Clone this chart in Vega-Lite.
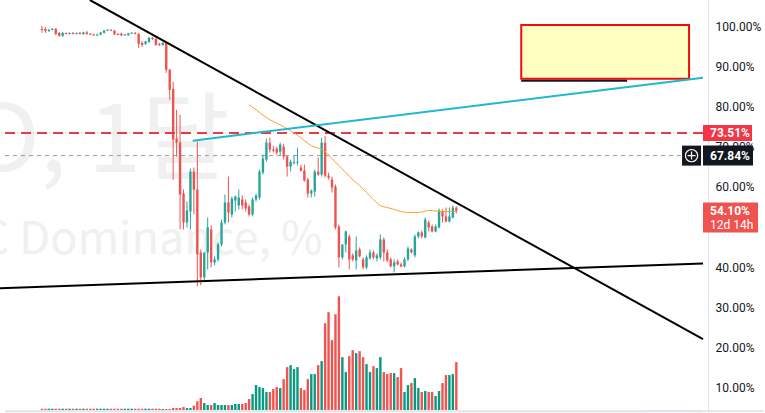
{
 "$schema": "https://vega.github.io/schema/vega-lite/v6.json",
 "width": 765,
 "height": 413,
 "autosize": {"type": "fit", "contains": "padding"},
 "padding": 0,
 "background": "#ffffff",
 "config": {
  "view": {"stroke": null},
  "axis": {"grid": false},
  "axisX": {"disable": true}
 },
 "datasets": {
  "candles": [
   {"t":0,"o":99.50,"h":100.25,"l":98.50,"c":99.25,"vol":1.3},
   {"t":1,"o":99.50,"h":100.00,"l":98.50,"c":99.00,"vol":1.3},
   {"t":2,"o":99.00,"h":99.50,"l":98.75,"c":99.25,"vol":1.3},
   {"t":3,"o":99.25,"h":99.75,"l":99.13,"c":99.50,"vol":1.3},
   {"t":4,"o":99.50,"h":99.75,"l":98.00,"c":98.25,"vol":1.3},
   {"t":5,"o":98.50,"h":98.75,"l":97.51,"c":97.76,"vol":1.3},
   {"t":6,"o":97.76,"h":98.75,"l":97.51,"c":98.50,"vol":1.3},
   {"t":7,"o":98.50,"h":98.63,"l":98.13,"c":98.25,"vol":1.3},
   {"t":8,"o":98.25,"h":98.63,"l":98.13,"c":98.50,"vol":1.3},
   {"t":9,"o":98.50,"h":98.70,"l":98.10,"c":98.25,"vol":1.3},
   {"t":10,"o":98.25,"h":98.60,"l":98.10,"c":98.50,"vol":1.3},
   {"t":11,"o":98.50,"h":98.75,"l":98.15,"c":98.25,"vol":1.3},
   {"t":12,"o":98.25,"h":98.80,"l":98.00,"c":98.65,"vol":1.3},
   {"t":13,"o":98.65,"h":99.00,"l":98.10,"c":98.20,"vol":1.3},
   {"t":14,"o":98.25,"h":98.40,"l":97.95,"c":98.00,"vol":1.3},
   {"t":15,"o":98.10,"h":98.30,"l":97.80,"c":97.85,"vol":1.3},
   {"t":16,"o":97.85,"h":98.30,"l":97.80,"c":98.10,"vol":1.3},
   {"t":17,"o":98.10,"h":98.75,"l":97.90,"c":98.60,"vol":1.3},
   {"t":18,"o":98.55,"h":99.30,"l":98.30,"c":99.05,"vol":1.3},
   {"t":19,"o":99.05,"h":99.40,"l":99.00,"c":99.30,"vol":1.3},
   {"t":20,"o":99.30,"h":99.40,"l":98.95,"c":99.05,"vol":1.3},
   {"t":21,"o":99.05,"h":99.25,"l":97.95,"c":98.20,"vol":1.3},
   {"t":22,"o":98.25,"h":98.45,"l":97.95,"c":98.00,"vol":1.3},
   {"t":23,"o":98.30,"h":98.60,"l":97.70,"c":97.90,"vol":1.3},
   {"t":24,"o":97.90,"h":98.15,"l":97.80,"c":98.15,"vol":1.3},
   {"t":25,"o":97.95,"h":98.50,"l":97.75,"c":98.40,"vol":1.3},
   {"t":26,"o":98.30,"h":98.60,"l":98.25,"c":98.55,"vol":1.3},
   {"t":27,"o":98.55,"h":98.65,"l":98.10,"c":98.30,"vol":1.3},
   {"t":28,"o":98.25,"h":98.50,"l":94.76,"c":95.76,"vol":1.3},
   {"t":29,"o":96.01,"h":96.51,"l":95.01,"c":95.51,"vol":1.3},
   {"t":30,"o":95.76,"h":96.51,"l":95.51,"c":96.38,"vol":1.3},
   {"t":31,"o":96.26,"h":97.51,"l":96.01,"c":97.26,"vol":1.3},
   {"t":32,"o":97.26,"h":97.51,"l":96.76,"c":97.01,"vol":1.3},
   {"t":33,"o":97.01,"h":97.26,"l":95.26,"c":95.51,"vol":1.3},
   {"t":34,"o":95.76,"h":96.01,"l":95.26,"c":95.51,"vol":1.3},
   {"t":35,"o":95.51,"h":96.26,"l":95.26,"c":96.01,"vol":1},
   {"t":36,"o":96.01,"h":96.26,"l":88.53,"c":89.28,"vol":1},
   {"t":37,"o":89.28,"h":89.53,"l":81.80,"c":84.29,"vol":1},
   {"t":38,"o":84.54,"h":86.29,"l":61.85,"c":71.83,"vol":2},
   {"t":39,"o":72.08,"h":79.31,"l":67.59,"c":71.08,"vol":2},
   {"t":40,"o":71.08,"h":78.06,"l":49.39,"c":58.11,"vol":2},
   {"t":41,"o":58.36,"h":59.36,"l":49.39,"c":51.13,"vol":3},
   {"t":42,"o":51.13,"h":56.37,"l":49.89,"c":54.13,"vol":2},
   {"t":43,"o":53.88,"h":64.60,"l":49.39,"c":63.85,"vol":2},
   {"t":44,"o":63.85,"h":64.85,"l":53.13,"c":59.36,"vol":4.3},
   {"t":45,"o":59.36,"h":71.33,"l":35.18,"c":43.16,"vol":8.7},
   {"t":46,"o":43.65,"h":44.40,"l":35.43,"c":37.42,"vol":12},
   {"t":47,"o":37.42,"h":39.42,"l":36.67,"c":43.65,"vol":7},
   {"t":48,"o":43.65,"h":52.38,"l":39.42,"c":49.89,"vol":5},
   {"t":49,"o":49.39,"h":50.39,"l":39.91,"c":41.16,"vol":5},
   {"t":50,"o":41.16,"h":42.66,"l":40.41,"c":41.91,"vol":7},
   {"t":51,"o":41.91,"h":46.15,"l":41.41,"c":45.65,"vol":5},
   {"t":52,"o":45.65,"h":51.88,"l":45.15,"c":51.13,"vol":5},
   {"t":53,"o":51.13,"h":58.11,"l":50.64,"c":56.12,"vol":5},
   {"t":54,"o":56.12,"h":62.60,"l":51.13,"c":53.63,"vol":5},
   {"t":55,"o":53.13,"h":57.62,"l":52.38,"c":57.12,"vol":5},
   {"t":56,"o":56.62,"h":57.87,"l":53.88,"c":57.62,"vol":6},
   {"t":57,"o":55.37,"h":59.36,"l":54.38,"c":57.37,"vol":6},
   {"t":58,"o":56.87,"h":57.87,"l":54.38,"c":55.37,"vol":6},
   {"t":59,"o":56.12,"h":56.87,"l":53.88,"c":54.62,"vol":7},
   {"t":60,"o":55.12,"h":55.62,"l":52.63,"c":53.13,"vol":11},
   {"t":61,"o":53.13,"h":57.37,"l":52.63,"c":56.87,"vol":16},
   {"t":62,"o":56.87,"h":58.36,"l":56.37,"c":57.87,"vol":25},
   {"t":63,"o":57.37,"h":64.35,"l":56.87,"c":63.85,"vol":23},
   {"t":64,"o":63.60,"h":68.09,"l":63.10,"c":67.09,"vol":22},
   {"t":65,"o":66.84,"h":72.08,"l":66.34,"c":71.08,"vol":18},
   {"t":66,"o":71.08,"h":72.33,"l":68.59,"c":69.33,"vol":18},
   {"t":67,"o":69.33,"h":70.33,"l":68.59,"c":69.08,"vol":21},
   {"t":68,"o":69.58,"h":70.08,"l":68.09,"c":68.59,"vol":23},
   {"t":69,"o":68.84,"h":71.08,"l":67.84,"c":70.58,"vol":22},
   {"t":70,"o":70.08,"h":70.83,"l":66.84,"c":67.59,"vol":31},
   {"t":71,"o":67.59,"h":67.84,"l":62.60,"c":65.10,"vol":43},
   {"t":72,"o":65.10,"h":66.84,"l":63.85,"c":66.34,"vol":45},
   {"t":73,"o":65.97,"h":67.84,"l":65.59,"c":66.22,"vol":41},
   {"t":74,"o":66.09,"h":69.83,"l":65.35,"c":66.34,"vol":43},
   {"t":75,"o":64.85,"h":65.59,"l":63.85,"c":64.10,"vol":22},
   {"t":76,"o":64.10,"h":65.59,"l":61.36,"c":61.61,"vol":20},
   {"t":77,"o":61.85,"h":62.35,"l":57.37,"c":58.36,"vol":31},
   {"t":78,"o":58.36,"h":59.36,"l":57.37,"c":59.11,"vol":36},
   {"t":79,"o":58.86,"h":64.35,"l":57.62,"c":63.85,"vol":36},
   {"t":80,"o":63.85,"h":67.34,"l":62.85,"c":63.10,"vol":45},
   {"t":81,"o":63.10,"h":72.33,"l":62.60,"c":71.08,"vol":49},
   {"t":82,"o":71.08,"h":72.82,"l":62.35,"c":62.85,"vol":87},
   {"t":83,"o":62.85,"h":63.60,"l":61.85,"c":62.35,"vol":98},
   {"t":84,"o":61.85,"h":62.60,"l":58.61,"c":59.86,"vol":70},
   {"t":85,"o":60.11,"h":60.61,"l":49.39,"c":49.89,"vol":96},
   {"t":86,"o":50.14,"h":50.64,"l":39.91,"c":42.41,"vol":114},
   {"t":87,"o":42.41,"h":44.40,"l":41.91,"c":45.65,"vol":53},
   {"t":88,"o":45.65,"h":49.10,"l":43.65,"c":48.89,"vol":38},
   {"t":89,"o":47.64,"h":48.14,"l":39.42,"c":41.91,"vol":54},
   {"t":90,"o":42.91,"h":43.40,"l":41.41,"c":41.91,"vol":60},
   {"t":91,"o":41.66,"h":47.64,"l":39.42,"c":44.15,"vol":57},
   {"t":92,"o":44.40,"h":44.90,"l":42.41,"c":42.66,"vol":59},
   {"t":93,"o":41.91,"h":42.41,"l":39.42,"c":39.91,"vol":53},
   {"t":94,"o":39.91,"h":42.91,"l":39.42,"c":42.41,"vol":46},
   {"t":95,"o":42.16,"h":44.40,"l":41.91,"c":43.65,"vol":38},
   {"t":96,"o":43.65,"h":44.15,"l":41.91,"c":42.41,"vol":44},
   {"t":97,"o":42.16,"h":43.40,"l":41.41,"c":42.91,"vol":42},
   {"t":98,"o":42.41,"h":48.14,"l":41.91,"c":46.89,"vol":53},
   {"t":99,"o":46.89,"h":47.39,"l":41.41,"c":43.65,"vol":38},
   {"t":100,"o":43.65,"h":44.40,"l":41.16,"c":41.66,"vol":36},
   {"t":101,"o":41.91,"h":42.41,"l":39.91,"c":40.16,"vol":37},
   {"t":102,"o":40.16,"h":41.91,"l":38.67,"c":41.16,"vol":37},
   {"t":103,"o":41.41,"h":41.91,"l":40.41,"c":40.66,"vol":33},
   {"t":104,"o":40.66,"h":41.16,"l":39.91,"c":40.16,"vol":42},
   {"t":105,"o":40.16,"h":42.41,"l":39.91,"c":41.91,"vol":18},
   {"t":106,"o":41.91,"h":45.15,"l":41.41,"c":44.65,"vol":25},
   {"t":107,"o":44.40,"h":44.65,"l":43.40,"c":43.65,"vol":27},
   {"t":108,"o":42.91,"h":48.14,"l":42.41,"c":47.64,"vol":32},
   {"t":109,"o":47.64,"h":48.89,"l":47.14,"c":48.64,"vol":22},
   {"t":110,"o":48.64,"h":49.14,"l":47.14,"c":47.64,"vol":18},
   {"t":111,"o":47.39,"h":52.38,"l":47.14,"c":51.88,"vol":19},
   {"t":112,"o":51.13,"h":51.63,"l":48.89,"c":49.89,"vol":18},
   {"t":113,"o":50.14,"h":50.64,"l":48.64,"c":48.89,"vol":18},
   {"t":114,"o":48.89,"h":50.64,"l":48.64,"c":50.14,"vol":14},
   {"t":115,"o":49.89,"h":54.62,"l":49.64,"c":54.13,"vol":19},
   {"t":116,"o":53.88,"h":54.38,"l":51.13,"c":52.63,"vol":27},
   {"t":117,"o":52.63,"h":54.87,"l":51.13,"c":51.38,"vol":35},
   {"t":118,"o":51.38,"h":54.87,"l":51.13,"c":52.63,"vol":35},
   {"t":119,"o":52.38,"h":55.37,"l":52.13,"c":54.87,"vol":36},
   {"t":120,"o":54.87,"h":55.12,"l":53.38,"c":54.10,"vol":48}
  ],
  "ma": [
   {"t":60,"v":80.55},{"t":62,"v":79.31},{"t":64,"v":77.94},{"t":66,"v":76.81},{"t":68,"v":75.94},
   {"t":70,"v":75.07},{"t":72,"v":74.07},{"t":74,"v":72.95},{"t":76,"v":71.58},{"t":78,"v":70.33},
   {"t":80,"v":69.71},{"t":82,"v":68.84},{"t":84,"v":67.09},{"t":86,"v":65.35},{"t":88,"v":63.60},
   {"t":90,"v":61.85},{"t":92,"v":60.36},{"t":94,"v":58.61},{"t":96,"v":56.87},{"t":98,"v":55.37},
   {"t":100,"v":54.87},{"t":102,"v":54.38},{"t":104,"v":53.88},{"t":106,"v":53.63},{"t":108,"v":53.63},
   {"t":110,"v":53.75},{"t":112,"v":54.13},{"t":114,"v":54.00},{"t":116,"v":53.88},{"t":118,"v":53.88},
   {"t":120,"v":53.88}
  ],
  "trend": [
   {"name":"desc","t":13.88,"v":106.73},{"name":"desc","t":191.44,"v":21.96},
   {"name":"support","t":-12.15,"v":34.68},{"name":"support","t":191.44,"v":40.91},
   {"name":"channel","t":43.67,"v":71.58},{"name":"channel","t":191.44,"v":87.28}
  ],
  "levels": [
   {"name":"alert","v":73.51,"t1":-10.70,"t2":191.44},
   {"name":"price","v":67.84,"t1":-10.70,"t2":185.37}
  ],
  "zone": [{"t1":138.8,"t2":187.4,"v1":100.5,"v2":87.04,"tr":169.46,"vr":86.54}],
  "watermark": [
   {"line":1,"text":"BTC.D, 1달","t":54.37,"v":63.85},
   {"line":2,"text":"BTC Dominance, %","t":81.26,"v":43.16}
  ],
  "tags": [
   {"name":"alert","v":73.51,"label":"73.51%"},
   {"name":"price","v":67.84,"label":"67.84%"},
   {"name":"last","v":54.10,"label":"54.10%","sub":"12d 14h"}
  ],
  "border": [{"t1":-10.70,"t2":191.44,"v":3.95}]
 },
 "resolve": {"scale": {"y": "independent"}},
 "layer": [
  {
   "data": {"name": "candles"},
   "mark": {"type": "bar", "size": 2.4, "orient": "vertical"},
   "encoding": {
    "x": {"field": "t", "type": "quantitative", "title": null, "scale": {"domain": [-10.70, 191.44], "nice": false, "zero": false}},
    "y": {"field": "vol", "type": "quantitative", "title": null, "scale": {"domain": [-2, 411], "nice": false, "zero": false}, "axis": null},
    "color": {"condition": {"test": "datum.c >= datum.o", "value": "#089981"}, "value": "#f05350"}
   }
  },
  {
   "layer": [
    {
     "data": {"name": "watermark"},
     "transform": [{"filter": "datum.line == 1"}],
     "mark": {"type": "text", "align": "right", "baseline": "alphabetic", "fontSize": 96, "font": "Noto Sans CJK KR", "color": "#f0f0f0", "clip": true},
     "encoding": {
      "x": {"field": "t", "type": "quantitative", "title": null, "scale": {"domain": [-10.70, 191.44], "nice": false, "zero": false}},
      "y": {"field": "v", "type": "quantitative", "title": null, "scale": {"domain": [3.77, 106.73], "nice": false, "zero": false},
            "axis": {"orient": "right", "title": null, "values": [10,20,30,40,50,60,70,80,90,100], "labelExpr": "format(datum.value, '.2f') + '%'", "domainColor": "#e0e3eb", "ticks": false, "labelPadding": 7, "labelFont": "Roboto", "labelFontSize": 12, "labelColor": "#131722"}},
      "text": {"field": "text"}
     }
    },
    {
     "data": {"name": "watermark"},
     "transform": [{"filter": "datum.line == 2"}],
     "mark": {"type": "text", "align": "right", "baseline": "alphabetic", "fontSize": 45, "font": "Noto Sans CJK KR", "color": "#f0f0f0", "clip": true},
     "encoding": {
      "x": {"field": "t", "type": "quantitative", "title": null, "scale": {"domain": [-10.70, 191.44], "nice": false, "zero": false}},
      "y": {"field": "v", "type": "quantitative", "title": null, "scale": {"domain": [3.77, 106.73], "nice": false, "zero": false}},
      "text": {"field": "text"}
     }
    },
    {
     "data": {"name": "border"},
     "mark": {"type": "rule", "color": "#e0e3eb", "strokeWidth": 2},
     "encoding": {
      "x": {"field": "t1", "type": "quantitative", "title": null, "scale": {"domain": [-10.70, 191.44], "nice": false, "zero": false}},
      "x2": {"field": "t2"},
      "y": {"field": "v", "type": "quantitative", "title": null, "scale": {"domain": [3.77, 106.73], "nice": false, "zero": false}}
     }
    },
    {
     "data": {"name": "border"},
     "mark": {"type": "bar", "orient": "vertical", "size": 122, "color": "#e0e3eb"},
     "encoding": {
      "x": {"field": "t2", "type": "quantitative", "title": null, "scale": {"domain": [-10.70, 191.44], "nice": false, "zero": false}},
      "y": {"datum": 3.77, "type": "quantitative", "title": null, "scale": {"domain": [3.77, 106.73], "nice": false, "zero": false}},
      "y2": {"datum": 4.2}
     }
    },
    {
     "data": {"name": "zone"},
     "mark": {"type": "rect", "fill": "#ffffc2", "stroke": "#f20d0d", "strokeWidth": 2},
     "encoding": {
      "x": {"field": "t1", "type": "quantitative", "title": null, "scale": {"domain": [-10.70, 191.44], "nice": false, "zero": false}},
      "x2": {"field": "t2"},
      "y": {"field": "v1", "type": "quantitative", "title": null, "scale": {"domain": [3.77, 106.73], "nice": false, "zero": false}},
      "y2": {"field": "v2"}
     }
    },
    {
     "data": {"name": "zone"},
     "mark": {"type": "rule", "color": "#131722", "strokeWidth": 2},
     "encoding": {
      "x": {"field": "t1", "type": "quantitative", "title": null, "scale": {"domain": [-10.70, 191.44], "nice": false, "zero": false}},
      "x2": {"field": "tr"},
      "y": {"field": "vr", "type": "quantitative", "title": null, "scale": {"domain": [3.77, 106.73], "nice": false, "zero": false}}
     }
    },
    {
     "data": {"name": "levels"},
     "transform": [{"filter": "datum.name == 'price'"}],
     "mark": {"type": "rule", "color": "#9598a1", "strokeWidth": 1, "strokeDash": [4, 4]},
     "encoding": {
      "x": {"field": "t1", "type": "quantitative", "title": null, "scale": {"domain": [-10.70, 191.44], "nice": false, "zero": false}},
      "x2": {"field": "t2"},
      "y": {"field": "v", "type": "quantitative", "title": null, "scale": {"domain": [3.77, 106.73], "nice": false, "zero": false}}
     }
    },
    {
     "data": {"name": "candles"},
     "mark": {"type": "rule", "strokeWidth": 1},
     "encoding": {
      "x": {"field": "t", "type": "quantitative", "title": null, "scale": {"domain": [-10.70, 191.44], "nice": false, "zero": false}},
      "y": {"field": "l", "type": "quantitative", "title": null, "scale": {"domain": [3.77, 106.73], "nice": false, "zero": false}},
      "y2": {"field": "h"},
      "color": {"condition": {"test": "datum.c >= datum.o", "value": "#26a69a"}, "value": "#ef5350"}
     }
    },
    {
     "data": {"name": "candles"},
     "mark": {"type": "bar", "size": 2.4, "orient": "vertical"},
     "encoding": {
      "x": {"field": "t", "type": "quantitative", "title": null, "scale": {"domain": [-10.70, 191.44], "nice": false, "zero": false}},
      "y": {"field": "o", "type": "quantitative", "title": null, "scale": {"domain": [3.77, 106.73], "nice": false, "zero": false}},
      "y2": {"field": "c"},
      "color": {"condition": {"test": "datum.c >= datum.o", "value": "#26a69a"}, "value": "#ef5350"}
     }
    },
    {
     "data": {"name": "levels"},
     "transform": [{"filter": "datum.name == 'alert'"}],
     "mark": {"type": "rule", "color": "#f23645", "strokeWidth": 2, "strokeDash": [10, 6]},
     "encoding": {
      "x": {"field": "t1", "type": "quantitative", "title": null, "scale": {"domain": [-10.70, 191.44], "nice": false, "zero": false}},
      "x2": {"field": "t2"},
      "y": {"field": "v", "type": "quantitative", "title": null, "scale": {"domain": [3.77, 106.73], "nice": false, "zero": false}}
     }
    },
    {
     "data": {"name": "ma"},
     "mark": {"type": "line", "color": "#f7a325", "strokeWidth": 1, "interpolate": "monotone"},
     "encoding": {
      "x": {"field": "t", "type": "quantitative", "title": null, "scale": {"domain": [-10.70, 191.44], "nice": false, "zero": false}},
      "y": {"field": "v", "type": "quantitative", "title": null, "scale": {"domain": [3.77, 106.73], "nice": false, "zero": false}}
     }
    },
    {
     "data": {"name": "trend"},
     "mark": {"type": "line", "strokeWidth": 2, "clip": true},
     "encoding": {
      "x": {"field": "t", "type": "quantitative", "title": null, "scale": {"domain": [-10.70, 191.44], "nice": false, "zero": false}},
      "y": {"field": "v", "type": "quantitative", "title": null, "scale": {"domain": [3.77, 106.73], "nice": false, "zero": false}},
      "color": {"field": "name", "type": "nominal", "scale": {"domain": ["desc", "support", "channel"], "range": ["#000000", "#000000", "#1fb8d1"]}, "legend": null}
     }
    },
    {
     "data": {"name": "tags"},
     "transform": [{"filter": "datum.name == 'alert'"}],
     "mark": {"type": "bar", "orient": "vertical", "size": 49, "xOffset": 24.5, "color": "#f23645"},
     "encoding": {
      "x": {"datum": 191.44, "type": "quantitative", "title": null, "scale": {"domain": [-10.70, 191.44], "nice": false, "zero": false}},
      "y": {"datum": 71.51, "type": "quantitative", "title": null, "scale": {"domain": [3.77, 106.73], "nice": false, "zero": false}},
      "y2": {"datum": 75.51}
     }
    },
    {
     "data": {"name": "tags"},
     "transform": [{"filter": "datum.name == 'price'"}],
     "mark": {"type": "bar", "orient": "vertical", "size": 50, "xOffset": 25, "color": "#131722"},
     "encoding": {
      "x": {"datum": 191.44, "type": "quantitative", "title": null, "scale": {"domain": [-10.70, 191.44], "nice": false, "zero": false}},
      "y": {"datum": 65.34, "type": "quantitative", "title": null, "scale": {"domain": [3.77, 106.73], "nice": false, "zero": false}},
      "y2": {"datum": 70.34}
     }
    },
    {
     "data": {"name": "tags"},
     "transform": [{"filter": "datum.name == 'price'"}],
     "mark": {"type": "bar", "orient": "vertical", "size": 19, "color": "#131722"},
     "encoding": {
      "x": {"datum": 188.12, "type": "quantitative", "title": null, "scale": {"domain": [-10.70, 191.44], "nice": false, "zero": false}},
      "y": {"datum": 65.34, "type": "quantitative", "title": null, "scale": {"domain": [3.77, 106.73], "nice": false, "zero": false}},
      "y2": {"datum": 70.34}
     }
    },
    {
     "data": {"name": "tags"},
     "transform": [{"filter": "datum.name == 'price'"}],
     "mark": {"type": "point", "shape": "circle", "filled": false, "stroke": "#ffffff", "strokeWidth": 1.2, "size": 150, "opacity": 1},
     "encoding": {
      "x": {"datum": 188.12, "type": "quantitative", "title": null, "scale": {"domain": [-10.70, 191.44], "nice": false, "zero": false}},
      "y": {"field": "v", "type": "quantitative", "title": null, "scale": {"domain": [3.77, 106.73], "nice": false, "zero": false}}
     }
    },
    {
     "data": {"name": "tags"},
     "transform": [{"filter": "datum.name == 'price'"}],
     "mark": {"type": "point", "shape": "M-0.8,0H0.8M0,-0.8V0.8", "filled": false, "stroke": "#ffffff", "strokeWidth": 1.2, "size": 100, "opacity": 1},
     "encoding": {
      "x": {"datum": 188.12, "type": "quantitative", "title": null, "scale": {"domain": [-10.70, 191.44], "nice": false, "zero": false}},
      "y": {"field": "v", "type": "quantitative", "title": null, "scale": {"domain": [3.77, 106.73], "nice": false, "zero": false}}
     }
    },
    {
     "data": {"name": "tags"},
     "transform": [{"filter": "datum.name == 'last'"}],
     "mark": {"type": "bar", "orient": "vertical", "size": 55, "xOffset": 27.5, "color": "#ef5350"},
     "encoding": {
      "x": {"datum": 191.44, "type": "quantitative", "title": null, "scale": {"domain": [-10.70, 191.44], "nice": false, "zero": false}},
      "y": {"datum": 48.64, "type": "quantitative", "title": null, "scale": {"domain": [3.77, 106.73], "nice": false, "zero": false}},
      "y2": {"datum": 56.12}
     }
    },
    {
     "data": {"name": "tags"},
     "mark": {"type": "text", "align": "left", "baseline": "middle", "dx": 7, "font": "Roboto", "fontSize": 12, "fontWeight": "bold", "color": "#ffffff"},
     "encoding": {
      "x": {"datum": 191.44, "type": "quantitative", "title": null, "scale": {"domain": [-10.70, 191.44], "nice": false, "zero": false}},
      "y": {"field": "v", "type": "quantitative", "title": null, "scale": {"domain": [3.77, 106.73], "nice": false, "zero": false}},
      "text": {"field": "label"}
     }
    },
    {
     "data": {"name": "tags"},
     "transform": [{"filter": "datum.name == 'last'"}],
     "mark": {"type": "text", "align": "left", "baseline": "middle", "dx": 7, "dy": 14, "font": "Roboto", "fontSize": 12, "color": "#ffffff"},
     "encoding": {
      "x": {"datum": 191.44, "type": "quantitative", "title": null, "scale": {"domain": [-10.70, 191.44], "nice": false, "zero": false}},
      "y": {"field": "v", "type": "quantitative", "title": null, "scale": {"domain": [3.77, 106.73], "nice": false, "zero": false}},
      "text": {"field": "sub"}
     }
    }
   ]
  }
 ]
}
